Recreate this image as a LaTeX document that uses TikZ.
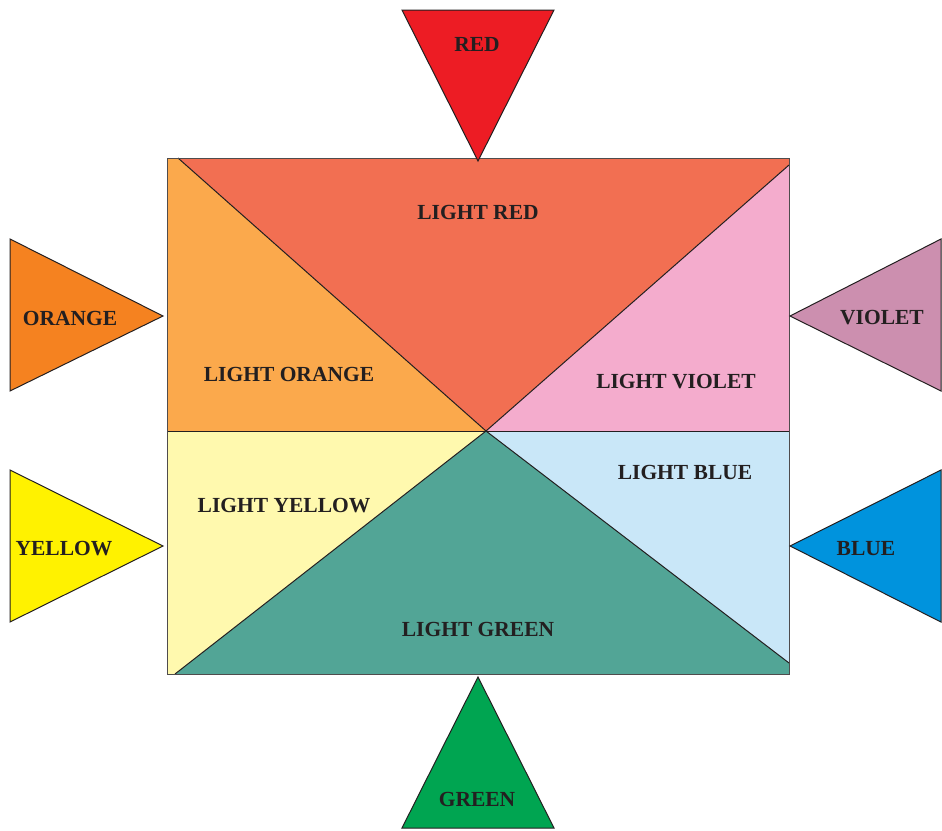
\documentclass[tikz,border=0pt]{standalone}
\usepackage{fontspec}
\setmainfont{Liberation Serif}
\usepackage{xcolor}
\usetikzlibrary{positioning}

\definecolor{ink}{HTML}{231F20}
\definecolor{redc}{HTML}{ED1C24}
\definecolor{orangec}{HTML}{F58220}
\definecolor{yellowc}{HTML}{FFF200}
\definecolor{violetc}{HTML}{CC8FAF}
\definecolor{bluec}{HTML}{0093DD}
\definecolor{greenc}{HTML}{00A551}
\definecolor{lred}{HTML}{F26F52}
\definecolor{lorange}{HTML}{FBA94C}
\definecolor{lyellow}{HTML}{FFF9AE}
\definecolor{lviolet}{HTML}{F4ACCD}
\definecolor{lblue}{HTML}{C9E7F8}
\definecolor{lgreen}{HTML}{52A596}

\begin{document}
\begin{tikzpicture}[
      x=1pt, y=-1pt,
      edge/.style={draw=ink, line width=1pt, line join=miter},
      wedge/.style={draw=ink, line width=1pt},
      lbl/.style={font=\fontsize{21.5}{21.5}\selectfont\bfseries, text=ink, inner sep=0pt}
    ]
    \useasboundingbox (0,0) rectangle (942,830);
    % corners of the big box
    \coordinate (c) at (486,431);
    \coordinate (tl) at (167,158);
    \coordinate (tr) at (789,158);
    \coordinate (bl) at (167,674);
    \coordinate (br) at (789,674);
    \coordinate (ml) at (167,431);
    \coordinate (mr) at (789,431);
    \coordinate (t1) at (178,158);
    \coordinate (r1) at (789,165);
    \coordinate (r2) at (789,663);
    \coordinate (b1) at (175,674);

    % light colours
    \fill[lorange] (tl) -- (t1) -- (c) -- (ml) -- cycle;
    \fill[lred] (t1) -- (tr) -- (r1) -- (c) -- cycle;
    \fill[lviolet] (r1) -- (mr) -- (c) -- cycle;
    \fill[lblue] (c) -- (mr) -- (r2) -- cycle;
    \fill[lgreen] (c) -- (r2) -- (br) -- (b1) -- cycle;
    \fill[lyellow] (ml) -- (c) -- (b1) -- (bl) -- cycle;
    \draw[edge] (t1) -- (c) -- (r1);
    \draw[edge] (b1) -- (c) -- (r2);
    \draw[edge] (ml) -- (mr);
    \draw[edge, draw=ink!80] (tl) rectangle (br);

    % outer triangles
    \draw[wedge, fill=redc] (402,10) -- (554,10) -- (478,161) -- cycle;
    \draw[wedge, fill=greenc] (402,828) -- (554,828) -- (478,677) -- cycle;
    \draw[wedge, fill=orangec] (10,239) -- (163,316) -- (10,391) -- cycle;
    \draw[wedge, fill=yellowc] (10,470) -- (163,546) -- (10,622) -- cycle;
    \draw[wedge, fill=violetc] (941,239) -- (790,316) -- (941,391) -- cycle;
    \draw[wedge, fill=bluec] (941,470) -- (790,546) -- (941,622) -- cycle;

    % labels
    \node[lbl] (red) at (477,44) {RED};
    \node[lbl] (green) at (477,799) {GREEN};
    \node[lbl] (orange) at (70,318) {ORANGE};
    \node[lbl] (yellow) at (64,549) {YELLOW};
    \node[lbl] (violet) at (882,318) {VIOLET};
    \node[lbl] (blue) at (866,549) {BLUE};
    \node[lbl] (lightred) at (478,212) {LIGHT RED};
    \node[lbl] (lightorange) at (289,374) {LIGHT ORANGE};
    \node[lbl] (lightviolet) at (676,382) {LIGHT VIOLET};
    \node[lbl] (lightyellow) at (284,506) {LIGHT YELLOW};
    \node[lbl] (lightblue) at (685,472) {LIGHT BLUE};
    \node[lbl] (lightgreen) at (478,629) {LIGHT GREEN};
  \end{tikzpicture}
\end{document}
